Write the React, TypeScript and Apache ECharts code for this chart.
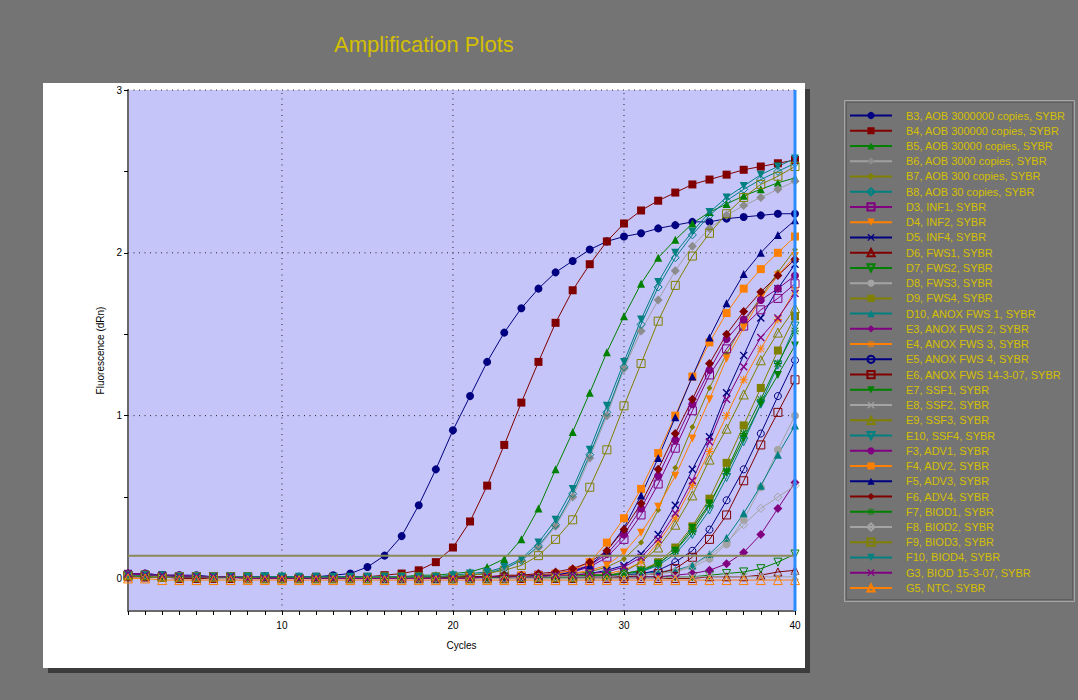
import React, { useEffect, useRef } from "react";
import * as echarts from "echarts";

const FONT = '"Liberation Sans", Arial, sans-serif';

const CYCLES = [1,2,3,4,5,6,7,8,9,10,11,12,13,14,15,16,17,18,19,20,21,22,23,24,25,26,27,28,29,30,31,32,33,34,35,36,37,38,39,40];
const X_TICK_LABELS = [10, 20, 30, 40];
const Y_TICKS = [0, 0.5, 1, 1.5, 2, 2.5, 3];
const Y_TICK_LABELS = [0, 1, 2, 3];
const GRID_X = [10, 20, 30];
const GRID_Y = [1, 2, 3];
const THRESHOLD = 0.14;
const END_CYCLE = 40;

const B3 = [0.03,0.03,0.02,0.02,0.02,0.01,0.01,0.01,0.01,0.01,0.01,0.01,0.02,0.03,0.07,0.14,0.26,0.45,0.67,0.91,1.12,1.33,1.51,1.66,1.78,1.88,1.95,2.02,2.07,2.10,2.12,2.15,2.17,2.19,2.19,2.21,2.22,2.23,2.24,2.24];
const B4 = [0.02,0.02,0.01,0.01,0.01,0.01,0.00,0.00,0.00,0.00,0.00,0.01,0.01,0.01,0.01,0.02,0.03,0.05,0.10,0.19,0.35,0.57,0.82,1.08,1.33,1.57,1.77,1.93,2.07,2.18,2.26,2.32,2.37,2.42,2.45,2.48,2.51,2.53,2.55,2.57];
const B5 = [0.02,0.02,0.02,0.01,0.01,0.01,0.01,0.01,0.01,0.01,0.01,0.01,0.01,0.01,0.01,0.01,0.01,0.02,0.02,0.03,0.04,0.07,0.12,0.24,0.43,0.67,0.90,1.14,1.39,1.61,1.81,1.97,2.08,2.18,2.25,2.30,2.35,2.39,2.43,2.46];
const B6 = [0.02,0.02,0.01,0.01,0.01,0.01,0.01,0.01,0.01,0.00,0.00,0.00,0.00,0.00,0.01,0.01,0.01,0.01,0.01,0.02,0.02,0.04,0.06,0.11,0.19,0.32,0.50,0.74,1.00,1.29,1.52,1.71,1.89,2.04,2.15,2.23,2.29,2.34,2.39,2.44];
const B7 = [0.02,0.01,0.01,0.01,0.01,0.01,0.01,0.00,0.00,0.00,0.00,0.00,0.00,0.00,0.00,0.00,0.01,0.01,0.01,0.01,0.01,0.01,0.01,0.02,0.02,0.02,0.03,0.04,0.07,0.12,0.22,0.42,0.68,0.93,1.17,1.38,1.57,1.73,1.88,2.02];
const B8 = [0.02,0.02,0.01,0.01,0.01,0.01,0.01,0.01,0.01,0.01,0.01,0.00,0.00,0.00,0.00,0.01,0.01,0.01,0.01,0.01,0.02,0.03,0.06,0.11,0.20,0.33,0.52,0.76,1.02,1.30,1.56,1.79,1.97,2.11,2.23,2.32,2.39,2.45,2.50,2.55];
const D3 = [0.02,0.02,0.01,0.01,0.01,0.01,0.01,0.01,0.00,0.00,0.00,0.00,0.00,0.00,0.00,0.00,0.00,0.00,0.00,0.01,0.01,0.01,0.01,0.01,0.02,0.02,0.04,0.07,0.13,0.24,0.39,0.58,0.80,1.03,1.25,1.41,1.55,1.65,1.72,1.81];
const D4 = [0.01,0.01,0.01,0.01,0.00,0.00,0.00,0.00,0.00,0.00,0.00,0.00,0.00,0.00,0.00,0.00,0.00,0.00,0.00,0.00,0.01,0.01,0.01,0.01,0.01,0.02,0.03,0.05,0.08,0.16,0.28,0.44,0.63,0.86,1.10,1.35,1.54,1.72,1.86,1.98];
const D5 = [0.03,0.02,0.02,0.01,0.01,0.01,0.01,0.01,0.01,0.00,0.00,0.00,0.00,0.00,0.00,0.00,0.00,0.00,0.00,0.00,0.00,0.01,0.01,0.01,0.01,0.01,0.02,0.03,0.05,0.08,0.15,0.27,0.45,0.67,0.87,1.14,1.37,1.60,1.78,1.93];
const D6 = [0.01,0.01,0.01,0.00,0.00,0.00,0.00,0.00,0.00,0.00,0.00,0.00,0.00,0.00,0.00,0.00,0.00,0.00,0.00,0.00,0.00,0.00,0.00,0.00,0.00,0.00,0.00,0.00,0.00,0.00,0.00,0.00,0.00,0.00,0.01,0.01,0.01,0.02,0.04,0.05];
const D7 = [0.02,0.02,0.01,0.01,0.01,0.01,0.01,0.00,0.00,0.00,0.00,0.00,0.00,0.00,0.00,0.00,0.00,0.00,0.00,0.00,0.00,0.00,0.00,0.00,0.00,0.00,0.00,0.01,0.01,0.01,0.01,0.01,0.01,0.01,0.02,0.03,0.04,0.06,0.10,0.15];
const D8 = [0.02,0.02,0.01,0.01,0.01,0.01,0.01,0.01,0.00,0.00,0.00,0.00,0.00,0.00,0.00,0.00,0.00,0.00,0.00,0.00,0.00,0.00,0.01,0.01,0.01,0.01,0.01,0.01,0.01,0.02,0.02,0.03,0.04,0.07,0.12,0.21,0.36,0.56,0.79,1.00];
const D9 = [0.02,0.02,0.01,0.01,0.01,0.01,0.01,0.01,0.01,0.00,0.00,0.00,0.00,0.00,0.00,0.00,0.00,0.00,0.00,0.00,0.00,0.01,0.01,0.01,0.01,0.01,0.01,0.02,0.02,0.03,0.05,0.10,0.19,0.32,0.49,0.71,0.94,1.17,1.40,1.61];
const D10 = [0.02,0.02,0.02,0.01,0.01,0.01,0.01,0.01,0.01,0.01,0.00,0.00,0.00,0.00,0.00,0.00,0.00,0.00,0.00,0.00,0.00,0.00,0.01,0.01,0.01,0.01,0.01,0.01,0.02,0.02,0.03,0.04,0.05,0.08,0.15,0.25,0.40,0.57,0.76,0.94];
const E3 = [0.03,0.02,0.02,0.01,0.01,0.01,0.01,0.01,0.01,0.00,0.00,0.00,0.00,0.00,0.00,0.00,0.00,0.00,0.00,0.00,0.00,0.00,0.00,0.00,0.00,0.01,0.01,0.01,0.01,0.01,0.01,0.01,0.02,0.03,0.05,0.09,0.16,0.27,0.43,0.59];
const E4 = [0.02,0.01,0.01,0.01,0.01,0.01,0.00,0.00,0.00,0.00,0.00,0.00,0.00,0.00,0.00,0.00,0.00,0.00,0.00,0.00,0.00,0.00,0.01,0.01,0.01,0.01,0.02,0.02,0.03,0.05,0.10,0.22,0.37,0.57,0.78,1.00,1.22,1.41,1.59,1.77];
const E5 = [0.02,0.02,0.01,0.01,0.01,0.01,0.01,0.01,0.00,0.00,0.00,0.00,0.00,0.00,0.00,0.00,0.00,0.00,0.00,0.00,0.00,0.00,0.00,0.01,0.01,0.01,0.01,0.01,0.02,0.02,0.03,0.05,0.10,0.17,0.30,0.48,0.67,0.89,1.12,1.34];
const E6 = [0.02,0.01,0.01,0.01,0.01,0.01,0.00,0.00,0.00,0.00,0.00,0.00,0.00,0.00,0.00,0.00,0.00,0.00,0.00,0.00,0.00,0.00,0.00,0.00,0.01,0.01,0.01,0.01,0.01,0.01,0.02,0.03,0.06,0.13,0.24,0.39,0.60,0.82,1.02,1.22];
const E7 = [0.02,0.02,0.02,0.01,0.01,0.01,0.01,0.01,0.01,0.01,0.00,0.00,0.00,0.00,0.00,0.00,0.00,0.00,0.00,0.00,0.01,0.01,0.01,0.01,0.01,0.01,0.01,0.02,0.02,0.03,0.04,0.09,0.17,0.31,0.46,0.65,0.86,1.07,1.25,1.43];
const E8 = [0.02,0.01,0.01,0.01,0.01,0.00,0.00,0.00,0.00,0.00,0.00,0.00,0.00,0.00,0.00,0.00,0.00,0.00,0.00,0.00,0.00,0.00,0.00,0.00,0.00,0.00,0.00,0.00,0.00,0.00,0.00,0.00,0.01,0.01,0.01,0.01,0.01,0.01,0.01,0.01];
const E9 = [0.02,0.02,0.01,0.01,0.01,0.01,0.01,0.00,0.00,0.00,0.00,0.00,0.00,0.00,0.00,0.00,0.00,0.00,0.00,0.00,0.00,0.00,0.00,0.01,0.01,0.01,0.01,0.02,0.02,0.04,0.10,0.19,0.33,0.51,0.73,0.92,1.13,1.34,1.51,1.66];
const E10 = [0.02,0.02,0.01,0.01,0.01,0.01,0.01,0.01,0.01,0.00,0.00,0.00,0.00,0.00,0.00,0.00,0.00,0.00,0.00,0.00,0.00,0.01,0.01,0.01,0.01,0.01,0.01,0.02,0.02,0.03,0.04,0.08,0.15,0.27,0.42,0.62,0.84,1.07,1.31,1.55];
const F3 = [0.03,0.03,0.02,0.02,0.01,0.01,0.01,0.01,0.01,0.00,0.00,0.00,0.00,0.00,0.00,0.00,0.00,0.00,0.00,0.01,0.01,0.01,0.01,0.02,0.02,0.03,0.05,0.08,0.15,0.27,0.43,0.63,0.85,1.07,1.28,1.47,1.59,1.71,1.78,1.86];
const F4 = [0.02,0.02,0.01,0.01,0.01,0.01,0.01,0.00,0.00,0.00,0.00,0.00,0.00,0.00,0.00,0.00,0.00,0.00,0.01,0.01,0.01,0.01,0.01,0.02,0.02,0.03,0.05,0.10,0.22,0.37,0.55,0.77,1.00,1.24,1.45,1.63,1.78,1.90,2.00,2.10];
const F5 = [0.03,0.02,0.02,0.01,0.01,0.01,0.01,0.01,0.00,0.00,0.00,0.00,0.00,0.00,0.00,0.00,0.00,0.00,0.00,0.01,0.01,0.01,0.01,0.01,0.02,0.02,0.04,0.08,0.17,0.31,0.51,0.74,0.99,1.24,1.48,1.69,1.87,2.00,2.11,2.20];
const F6 = [0.02,0.02,0.01,0.01,0.01,0.01,0.01,0.00,0.00,0.00,0.00,0.00,0.00,0.00,0.00,0.00,0.00,0.00,0.01,0.01,0.01,0.01,0.02,0.02,0.03,0.04,0.06,0.10,0.17,0.30,0.46,0.67,0.89,1.10,1.32,1.50,1.64,1.76,1.86,1.96];
const F7 = [0.02,0.01,0.01,0.01,0.01,0.01,0.01,0.00,0.00,0.00,0.00,0.00,0.00,0.00,0.00,0.00,0.00,0.00,0.00,0.00,0.00,0.00,0.01,0.01,0.01,0.01,0.01,0.02,0.02,0.03,0.05,0.09,0.17,0.29,0.45,0.66,0.89,1.10,1.32,1.52];
const F8 = [0.02,0.02,0.01,0.01,0.01,0.01,0.01,0.00,0.00,0.00,0.00,0.00,0.00,0.00,0.00,0.00,0.00,0.00,0.00,0.00,0.00,0.00,0.00,0.01,0.01,0.01,0.01,0.01,0.01,0.02,0.02,0.03,0.04,0.08,0.14,0.22,0.33,0.43,0.50,0.57];
const F9 = [0.02,0.02,0.01,0.01,0.01,0.01,0.01,0.01,0.00,0.00,0.00,0.00,0.00,0.00,0.00,0.01,0.01,0.01,0.01,0.01,0.02,0.03,0.05,0.08,0.14,0.24,0.36,0.56,0.79,1.06,1.32,1.58,1.80,1.98,2.12,2.24,2.34,2.42,2.47,2.53];
const F10 = [0.02,0.02,0.02,0.01,0.01,0.01,0.01,0.01,0.01,0.01,0.01,0.01,0.01,0.01,0.01,0.01,0.01,0.01,0.01,0.02,0.03,0.04,0.07,0.12,0.22,0.36,0.55,0.79,1.06,1.33,1.59,1.82,2.00,2.13,2.25,2.34,2.41,2.48,2.53,2.58];
const G3 = [0.03,0.02,0.02,0.01,0.01,0.01,0.01,0.00,0.00,0.00,0.00,0.00,0.00,0.00,0.00,0.00,0.00,0.00,0.00,0.00,0.00,0.01,0.01,0.01,0.01,0.02,0.02,0.03,0.04,0.07,0.13,0.24,0.40,0.60,0.84,1.10,1.30,1.48,1.60,1.75];
const G5 = [0.00,0.00,-0.01,-0.01,-0.01,-0.01,-0.01,-0.01,-0.01,-0.01,-0.01,-0.01,-0.01,-0.01,-0.01,-0.01,-0.01,-0.01,-0.01,-0.01,-0.01,-0.01,-0.01,-0.01,-0.01,-0.01,-0.01,-0.01,-0.01,-0.01,-0.01,-0.01,-0.01,-0.01,-0.01,-0.01,-0.01,-0.01,-0.01,-0.01];

const NAVY = "#000080";
const DARKRED = "#800000";
const GREEN = "#008000";
const GRAY = "#8c8c8c";
const LIGHTGRAY = "#a4a4a4";
const OLIVE = "#808000";
const TEAL = "#008080";
const PURPLE = "#800080";
const ORANGE = "#ff8000";

const DOWN = "path://M0,0L10,0L5,10Z";
const CROSS = "path://M0,1.2L1.2,0L5,3.8L8.8,0L10,1.2L6.2,5L10,8.8L8.8,10L5,6.2L1.2,10L0,8.8L3.8,5Z";
const STAR = "path://M4.4,0H5.6V10H4.4Z M0,4.4H10V5.6H0Z M1.2,0.4L9.6,8.8L8.8,9.6L0.4,1.2Z M8.8,0.4L9.6,1.2L1.2,9.6L0.4,8.8Z";

type Meta = { name: string; values: number[]; color: string; symbol: string; size: number; hollow?: boolean; line?: string };

const SERIES: Meta[] = [
  { name: "B3, AOB 3000000 copies, SYBR", values: B3, color: NAVY, symbol: "circle", size: 8 },
  { name: "B4, AOB 300000 copies, SYBR", values: B4, color: DARKRED, symbol: "rect", size: 8 },
  { name: "B5, AOB 30000 copies, SYBR", values: B5, color: GREEN, symbol: "triangle", size: 8 },
  { name: "B6, AOB 3000 copies, SYBR", values: B6, color: GRAY, symbol: "diamond", size: 9, line: "#a0a0a0" },
  { name: "B7, AOB 300 copies, SYBR", values: B7, color: OLIVE, symbol: "diamond", size: 6 },
  { name: "B8, AOB 30 copies, SYBR", values: B8, color: TEAL, symbol: "diamond", size: 8, hollow: true },
  { name: "D3, INF1, SYBR", values: D3, color: PURPLE, symbol: "rect", size: 8, hollow: true },
  { name: "D4, INF2, SYBR", values: D4, color: ORANGE, symbol: DOWN, size: 8 },
  { name: "D5, INF4, SYBR", values: D5, color: NAVY, symbol: CROSS, size: 8 },
  { name: "D6, FWS1, SYBR", values: D6, color: DARKRED, symbol: "triangle", size: 8, hollow: true },
  { name: "D7, FWS2, SYBR", values: D7, color: GREEN, symbol: DOWN, size: 8, hollow: true },
  { name: "D8, FWS3, SYBR", values: D8, color: LIGHTGRAY, symbol: "circle", size: 8 },
  { name: "D9, FWS4, SYBR", values: D9, color: OLIVE, symbol: "rect", size: 8 },
  { name: "D10, ANOX FWS 1, SYBR", values: D10, color: TEAL, symbol: "triangle", size: 8 },
  { name: "E3, ANOX FWS 2, SYBR", values: E3, color: PURPLE, symbol: "diamond", size: 9 },
  { name: "E4, ANOX FWS 3, SYBR", values: E4, color: ORANGE, symbol: STAR, size: 8 },
  { name: "E5, ANOX FWS 4, SYBR", values: E5, color: NAVY, symbol: "circle", size: 7, hollow: true },
  { name: "E6, ANOX FWS 14-3-07, SYBR", values: E6, color: DARKRED, symbol: "rect", size: 8, hollow: true },
  { name: "E7, SSF1, SYBR", values: E7, color: GREEN, symbol: DOWN, size: 8 },
  { name: "E8, SSF2, SYBR", values: E8, color: LIGHTGRAY, symbol: CROSS, size: 8 },
  { name: "E9, SSF3, SYBR", values: E9, color: OLIVE, symbol: "triangle", size: 9, hollow: true },
  { name: "E10, SSF4, SYBR", values: E10, color: TEAL, symbol: DOWN, size: 8, hollow: true },
  { name: "F3, ADV1, SYBR", values: F3, color: PURPLE, symbol: "circle", size: 8 },
  { name: "F4, ADV2, SYBR", values: F4, color: ORANGE, symbol: "rect", size: 8 },
  { name: "F5, ADV3, SYBR", values: F5, color: NAVY, symbol: "triangle", size: 8 },
  { name: "F6, ADV4, SYBR", values: F6, color: DARKRED, symbol: "diamond", size: 9 },
  { name: "F7, BIOD1, SYBR", values: F7, color: GREEN, symbol: STAR, size: 8 },
  { name: "F8, BIOD2, SYBR", values: F8, color: LIGHTGRAY, symbol: "diamond", size: 8, hollow: true },
  { name: "F9, BIOD3, SYBR", values: F9, color: OLIVE, symbol: "rect", size: 8, hollow: true },
  { name: "F10, BIOD4, SYBR", values: F10, color: TEAL, symbol: DOWN, size: 8 },
  { name: "G3, BIOD 15-3-07, SYBR", values: G3, color: PURPLE, symbol: CROSS, size: 8 },
  { name: "G5, NTC, SYBR", values: G5, color: ORANGE, symbol: "triangle", size: 9, hollow: true },
];

function buildOption() {
  const yMin = -0.2;
  const yMax = 3;
  const xMin = CYCLES[0];
  const xMax = CYCLES[CYCLES.length - 1];

  const gridSeries: any[] = [
    ...GRID_X.map((gx) => ({
      type: "line", silent: true, z: 1, symbol: "none", clip: false,
      data: [[gx, yMin], [gx, yMax]],
      lineStyle: { color: "#202020", width: 1, type: [1, 4.5] },
    })),
    ...GRID_Y.map((gy) => ({
      type: "line", silent: true, z: 1, symbol: "none", clip: false,
      data: [[xMin, gy], [xMax, gy]],
      lineStyle: { color: "#202020", width: 1, type: [1, 4.5] },
    })),
  ];

  const dataSeries = SERIES.map((s) => ({
    type: "line",
    name: s.name,
    data: CYCLES.map((c, i) => [c, s.values[i]]),
    symbol: s.symbol,
    symbolSize: s.size,
    showSymbol: true,
    z: 2,
    lineStyle: { color: s.line || s.color, width: 1 },
    itemStyle: s.hollow
      ? { color: "rgba(0,0,0,0)", borderColor: s.color, borderWidth: 1 }
      : { color: s.color, borderColor: s.color, borderWidth: 0 },
    emphasis: { disabled: true },
  }));

  const topSeries: any[] = [
    {
      type: "line", silent: true, z: 5, symbol: "none", clip: false,
      data: [[xMin, THRESHOLD], [xMax, THRESHOLD]],
      lineStyle: { color: "#8a8a58", width: 2 },
    },
    {
      type: "line", silent: true, z: 6, symbol: "none", clip: false,
      data: [[END_CYCLE, yMin], [END_CYCLE, yMax]],
      lineStyle: { color: "#2a8cff", width: 3 },
    },
  ];

  return {
    animation: false,
    backgroundColor: "transparent",
    textStyle: { fontFamily: FONT },
    grid: {
      left: 128, right: 283, top: 90, bottom: 89,
      show: true, backgroundColor: "#c5c5f9", borderWidth: 0,
    },
    xAxis: {
      type: "value", min: xMin, max: xMax, interval: 1,
      name: "Cycles", nameLocation: "middle", nameGap: 29,
      nameTextStyle: { color: "#000", fontSize: 10, fontFamily: FONT },
      axisLine: { show: true, onZero: false, lineStyle: { color: "#6a6a6a", width: 2 } },
      axisTick: { show: true, length: 4, customValues: CYCLES, lineStyle: { color: "#000", width: 1 } },
      axisLabel: {
        show: true, color: "#000", fontSize: 10, fontFamily: FONT, margin: 9,
        customValues: X_TICK_LABELS,
        formatter: (v: number) => (X_TICK_LABELS.indexOf(v) >= 0 ? String(v) : ""),
      },
      splitLine: { show: false },
    },
    yAxis: {
      type: "value", min: yMin, max: yMax,
      name: "Fluorescence (dRn)", nameLocation: "middle", nameGap: 20,
      nameTextStyle: { color: "#000", fontSize: 10, fontFamily: FONT },
      axisLine: { show: true, onZero: false, lineStyle: { color: "#6a6a6a", width: 2 } },
      axisTick: { show: true, length: 4, customValues: Y_TICKS, lineStyle: { color: "#000", width: 1 } },
      axisLabel: {
        show: true, color: "#000", fontSize: 10, fontFamily: FONT, margin: 6,
        customValues: Y_TICK_LABELS,
        formatter: (v: number) => (Y_TICK_LABELS.indexOf(v) >= 0 ? String(v) : ""),
      },
      splitLine: { show: false },
    },
    legend: {
      show: true, orient: "vertical", left: 849, top: 110, padding: 0,
      itemWidth: 42, itemHeight: 9, itemGap: 4.24, selectedMode: false,
      data: SERIES.map((s) => s.name),
      textStyle: { color: "#d4c000", fontSize: 11, fontFamily: FONT, lineHeight: 11, padding: [0, 0, 0, 9] },
    },
    graphic: [
      { type: "rect", z: -10, silent: true, shape: { x: 805, y: 89, width: 5, height: 584 }, style: { fill: "#3c3c3c" } },
      { type: "rect", z: -10, silent: true, shape: { x: 48, y: 668, width: 762, height: 5 }, style: { fill: "#3c3c3c" } },
      { type: "rect", z: -9, silent: true, shape: { x: 43, y: 83, width: 762, height: 585 }, style: { fill: "#ffffff" } },
      { type: "rect", z: -9, silent: true, shape: { x: 844.5, y: 100.5, width: 230, height: 501 }, style: { fill: "none", stroke: "#a6a6a6", lineWidth: 1 } },
      { type: "rect", z: -9, silent: true, shape: { x: 846.5, y: 102.5, width: 226, height: 497 }, style: { fill: "none", stroke: "#5e5e5e", lineWidth: 1 } },
      {
        type: "text", z: -8, silent: true, x: 334, y: 44,
        style: { text: "Amplification Plots", fill: "#d4c000", fontSize: 22, fontFamily: FONT, verticalAlign: "middle" },
      },
    ],
    series: [...gridSeries, ...dataSeries, ...topSeries],
  };
}

export default function App() {
  const ref = useRef<HTMLDivElement>(null);
  useEffect(() => {
    if (!ref.current) return;
    const chart = echarts.init(ref.current, null, { renderer: "svg" });
    chart.setOption(buildOption() as any);
    return () => chart.dispose();
  }, []);
  return (
    <div
      ref={ref}
      style={{ position: "fixed", left: 0, top: 0, width: 1078, height: 700, background: "#747474" }}
    />
  );
}
